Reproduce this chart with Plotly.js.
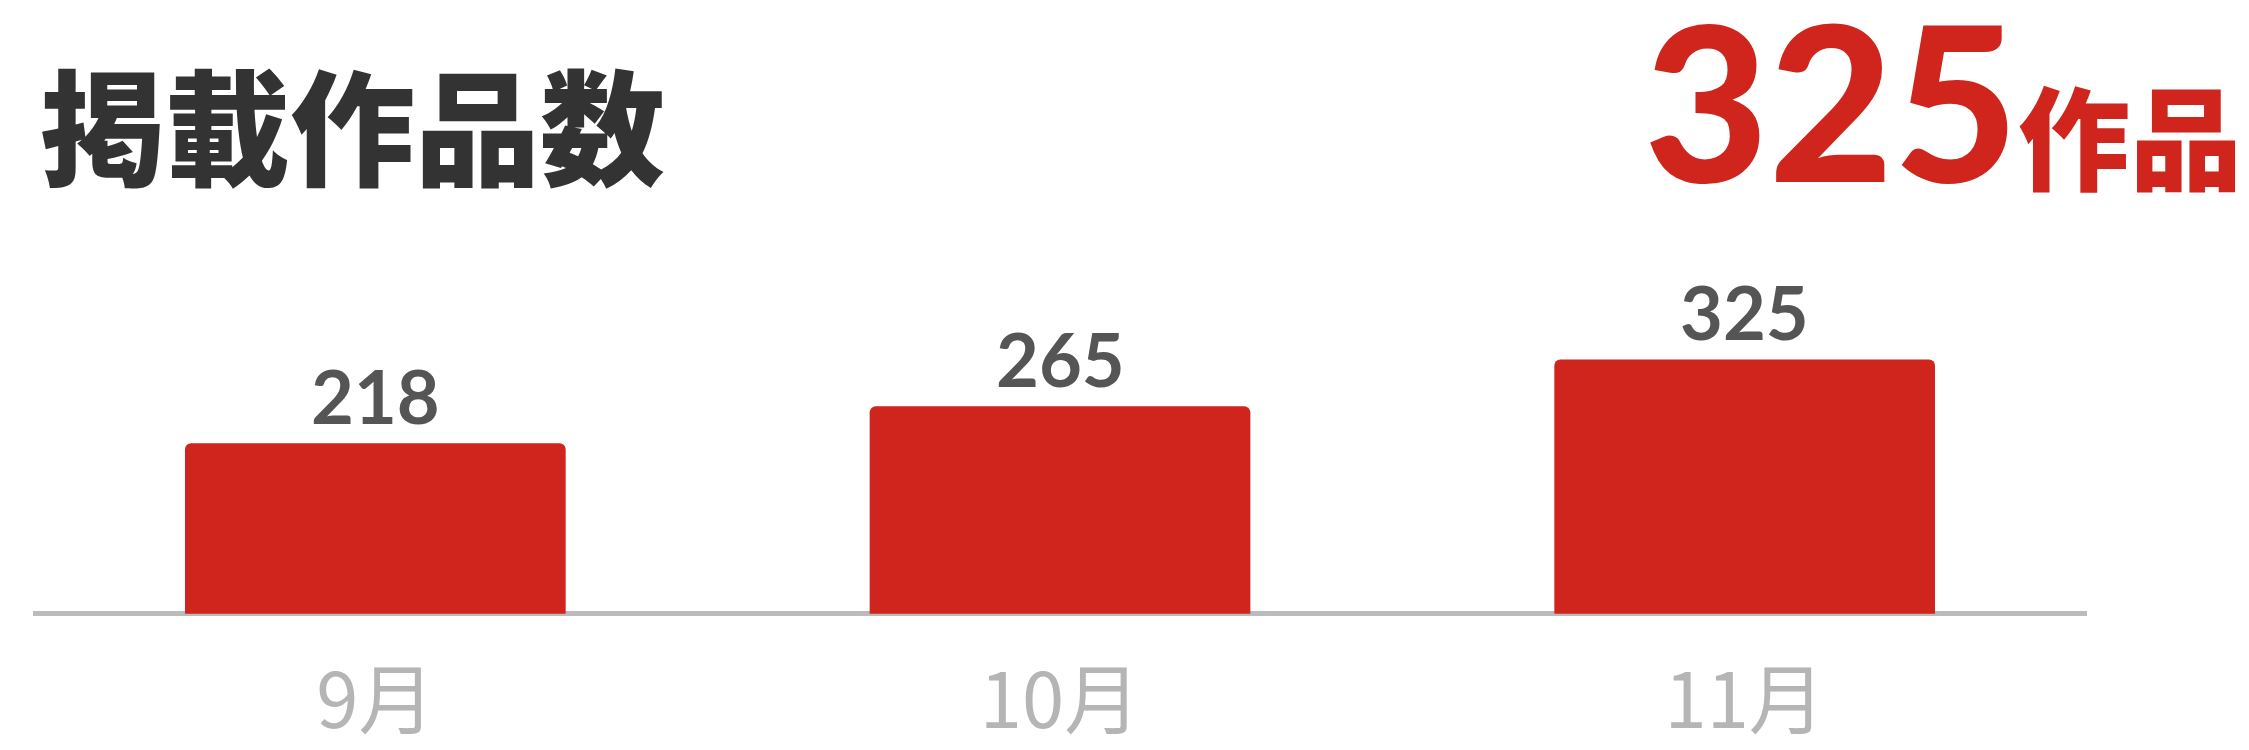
<!DOCTYPE html>
<html>
<head>
<meta charset="utf-8">
<script src="https://cdn.plot.ly/plotly-3.0.1.min.js"></script>
<style>
html,body{margin:0;padding:0;background:#fff;}
#chart{width:2249px;height:750px;}
</style>
</head>
<body>
<div id="chart"></div>
<script>
// ---- data ----
const categories = ["9月", "10月", "11月"];
const values = [218, 265, 325];
const titleText = "掲載作品数";
const totalValue = 325;
const totalUnit = "作品";

// ---- layout constants ----
const W = 2249, H = 750;
const M = {l: 33, r: 162, t: 200, b: 133};
const plotW = W - M.l - M.r, plotH = H - M.t - M.b;
const px2paperX = px => (px - M.l) / plotW;
const px2paperY = py => (H - M.b - py) / plotH;

const RED = "#CF251C";

const valueLabels = categories.map((c, i) => ({
  x: c, y: values[i], xref: "x", yref: "y",
  text: String(values[i]),
  showarrow: false, yanchor: "bottom", xanchor: "center", yshift: 1,
  font: {family: "Lato, 'Open Sans', sans-serif", size: 74, weight: 700, color: "#555555"}
}));

const totalAnn = {
  xref: "paper", yref: "paper",
  x: px2paperX(2243), y: px2paperY(229),
  xanchor: "right", yanchor: "bottom", showarrow: false, borderpad: 0,
  text: String(totalValue) + "<span style='font-size:112px;font-family:\"Noto Sans CJK JP\";font-weight:900'>" + totalUnit + "</span>",
  font: {family: "Lato, sans-serif", size: 215, weight: 900, color: RED}
};

const trace = {
  type: "bar",
  x: categories,
  y: values,
  marker: {color: RED, cornerradius: 6},
  hoverinfo: "skip"
};

const layout = {
  width: W, height: H,
  margin: M,
  paper_bgcolor: "#ffffff", plot_bgcolor: "#ffffff",
  showlegend: false,
  bargap: 0.444,
  title: {
    text: titleText,
    xref: "container", yref: "container",
    x: 40 / W, xanchor: "left",
    y: 1 - 88 / H, yanchor: "top",
    font: {family: "'Noto Sans CJK JP', sans-serif", size: 125, weight: 900, color: "#333333"}
  },
  xaxis: {
    type: "category",
    range: [-0.5, 2.5],
    showgrid: false, zeroline: false, showline: false,
    ticks: "", ticklabelstandoff: 34,
    tickfont: {family: "'Noto Sans CJK JP', sans-serif", size: 76, color: "#b5b5b5"},
    fixedrange: true
  },
  yaxis: {
    range: [-4, -4 + plotH / 0.783],
    showgrid: false, showticklabels: false, ticks: "",
    zeroline: true, zerolinecolor: "#bbbbbb", zerolinewidth: 5,
    showline: false, fixedrange: true
  },
  annotations: valueLabels.concat([totalAnn])
};

Plotly.newPlot("chart", [trace], layout, {displayModeBar: false, staticPlot: true});
</script>
</body>
</html>
